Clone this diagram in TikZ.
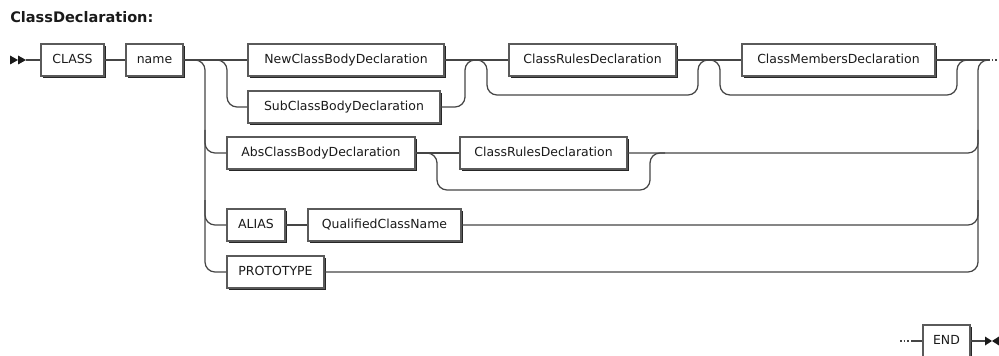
\documentclass[tikz,border=0pt]{standalone}
\usepackage{fontspec}
\setmainfont{DejaVu Sans}
\usetikzlibrary{shadows}
\definecolor{railc}{HTML}{454545}
\definecolor{boxline}{HTML}{5A5A5A}
\definecolor{shadowc}{HTML}{262626}
\definecolor{inkc}{HTML}{1A1A1A}
% one railroad box: name, left x, right x, centre y, label
\newcommand{\rrbox}[5]{%
  \node[termbox, minimum width={(#3-#2)*0.75pt}] (#1) at ({(#2+#3)/2},#4) {#5};}
\begin{document}
\begin{tikzpicture}[x=0.75pt,y=-0.75pt,
  termbox/.style={draw=boxline, fill=white, line width=0.8pt, inner sep=0pt,
    minimum height=24pt, text height=7pt, text depth=1.8pt,
    text=inkc, font=\fontsize{9.35pt}{11pt}\selectfont,
    drop shadow={shadow xshift=1.7pt, shadow yshift=-1.7pt, fill=shadowc, opacity=1}},
  rail/.style={draw=railc, line width=0.95pt},
  railbend/.style={rail, rounded corners=7.5pt},
  dots/.style={draw=railc, line width=0.95pt, dash pattern=on 1.2pt off 1.6pt},
  marker/.style={fill=inkc, draw=none}]
\useasboundingbox (0,0) rectangle (999,356);

\node[anchor=base west, inner sep=0pt, text=inkc,
  font=\bfseries\fontsize{10.9pt}{12pt}\selectfont]
  (title) at (10,23) {ClassDeclaration:};

% boxes of the main production
\rrbox{class}{41}{104}{60}{CLASS}
\rrbox{nm}{126}{183}{60}{name}
\rrbox{newbody}{248}{444}{60}{NewClassBodyDeclaration}
\rrbox{subbody}{248}{440}{107}{SubClassBodyDeclaration}
\rrbox{rulesa}{509}{676}{60}{ClassRulesDeclaration}
\rrbox{members}{742}{935}{60}{ClassMembersDeclaration}
\rrbox{absbody}{227}{415}{153}{AbsClassBodyDeclaration}
\rrbox{rulesb}{460}{627}{153}{ClassRulesDeclaration}
\rrbox{alias}{227}{285}{225}{ALIAS}
\rrbox{qual}{308}{461}{225}{QualifiedClassName}
\rrbox{proto}{227}{324}{272}{PROTOTYPE}
\rrbox{endkw}{923}{970}{341}{END}

% start marker
\coordinate (start) at (26,60);
\path[marker] (10,55.5) -- (10,64.5) -- (18,60) -- cycle;
\path[marker] (18,55.5) -- (18,64.5) -- (26,60) -- cycle;

% main line
\draw[rail] (start) -- (class.west);
\draw[rail] (class.east) -- (nm.west);
\draw[rail] (nm.east) -- (newbody.west);
\draw[rail] (newbody.east) -- (rulesa.west);
\draw[rail] (rulesa.east) -- (members.west);
\coordinate (contA) at (988,60);
\coordinate (contB) at (998,60);
\draw[rail] (members.east) -- (contA);
\draw[dots] (contA) -- (contB);

% outer choice
\draw[railbend] (nm.east) -| (205,272) -- (proto.west);
\draw[railbend] (205,130) |- (absbody.west);
\draw[railbend] (205,200) |- (alias.west);
\draw[railbend] (proto.east) -| (978,60) -- (contA);
\draw[railbend] (rulesb.east) -| (978,130);
\draw[railbend] (qual.east) -| (978,200);

% new / sub body choice
\draw[railbend] (210,60) -| (227,107) -- (subbody.west);
\draw[railbend] (subbody.east) -| (465,60) -- (480,60);

% optional class rules
\draw[railbend] (470,60) -| (487,95) -| (698,60) -- (715,60);
% optional class members
\draw[railbend] (703,60) -| (720,95) -| (957,60) -- (975,60);

% abstract body row
\draw[rail] (absbody.east) -- (rulesb.west);
\draw[railbend] (420,153) -| (437,190) -| (650,153) -- (665,153);
\draw[rail] (alias.east) -- (qual.west);

% continuation line
\coordinate (contC) at (900,341);
\coordinate (contD) at (913,341);
\coordinate (stop) at (985,341);
\draw[dots] (contC) -- (contD);
\draw[rail] (contD) -- (endkw.west);
\draw[rail] (endkw.east) -- (stop);
\path[marker] (985,336.5) -- (985,345.5) -- (992,341) -- cycle;
\path[marker] (999,336.5) -- (999,345.5) -- (992,341) -- cycle;
\end{tikzpicture}
\end{document}
